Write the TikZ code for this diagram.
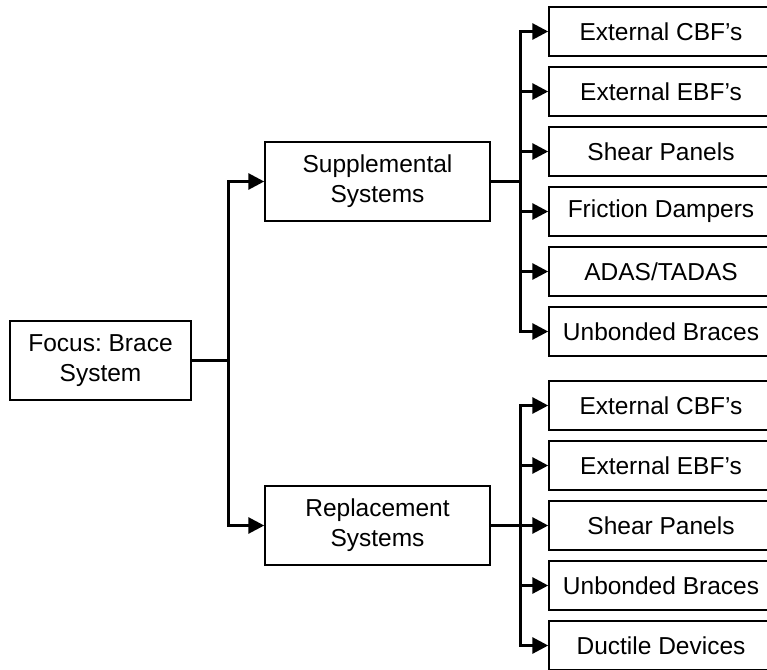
\documentclass[tikz,border=0pt]{standalone}
\usepackage{fontspec}
\setmainfont{Liberation Sans}
\frenchspacing
\usetikzlibrary{arrows.meta}

\tikzset{
  box/.style={draw, line width=1.5pt, fill=white, align=center, inner sep=0pt,
    font=\fontsize{24.5}{30}\selectfont},
  midbox/.style={box, minimum width=225pt, minimum height=79pt},
  leafbox/.style={box, minimum width=224pt, minimum height=49pt},
  conn/.style={line width=3pt, line join=miter},
  arr/.style={conn, -{Triangle[length=16pt, width=16pt]}}
}

\begin{document}
\begin{tikzpicture}[x=1pt, y=-1pt]
\useasboundingbox (0,0) rectangle (767,669);
\clip (0,0) rectangle (767,669);

\node[box, minimum width=181pt, minimum height=79pt] (focus) at (100.5,360.5) {Focus: Brace\\System};
\node[midbox] (supp) at (377.5,181.5) {Supplemental\\Systems};
\node[midbox] (repl) at (377.5,525.5) {Replacement\\Systems};

\node[leafbox] (s1) at (661,31.5) {External CBF’s};
\node[leafbox] (s2) at (661,91.5) {External EBF’s};
\node[leafbox] (s3) at (661,151.5) {Shear Panels};
\node[leafbox] (s4) at (661,211.5) {Friction Dampers};
\node[leafbox] (s5) at (661,271.5) {ADAS/TADAS};
\node[leafbox] (s6) at (661,331.5) {Unbonded Braces};

\node[leafbox] (r1) at (661,405.5) {External CBF’s};
\node[leafbox] (r2) at (661,465.5) {External EBF’s};
\node[leafbox] (r3) at (661,525.5) {Shear Panels};
\node[leafbox] (r4) at (661,585.5) {Unbonded Braces};
\node[leafbox] (r5) at (661,645.5) {Ductile Devices};

\coordinate (hub) at (228,360.5);
\coordinate (sj) at (520,181.5);
\coordinate (rj) at (520,525.5);

\path[draw,conn] (focus.east) -- (hub);
\path[draw,arr] (hub) |- (supp.west);
\path[draw,arr] (hub) |- (repl.west);

\path[draw,conn] (supp.east) -- (sj);
\path[draw,arr] (sj) |- (s1.west);
\path[draw,arr] (sj) |- (s2.west);
\path[draw,arr] (sj) |- (s3.west);
\path[draw,arr] (sj) |- (s4.west);
\path[draw,arr] (sj) |- (s5.west);
\path[draw,arr] (sj) |- (s6.west);

\path[draw,conn] (repl.east) -- (rj);
\path[draw,arr] (rj) |- (r1.west);
\path[draw,arr] (rj) |- (r2.west);
\path[draw,arr] (rj) |- (r3.west);
\path[draw,arr] (rj) |- (r4.west);
\path[draw,arr] (rj) |- (r5.west);
\end{tikzpicture}
\end{document}
